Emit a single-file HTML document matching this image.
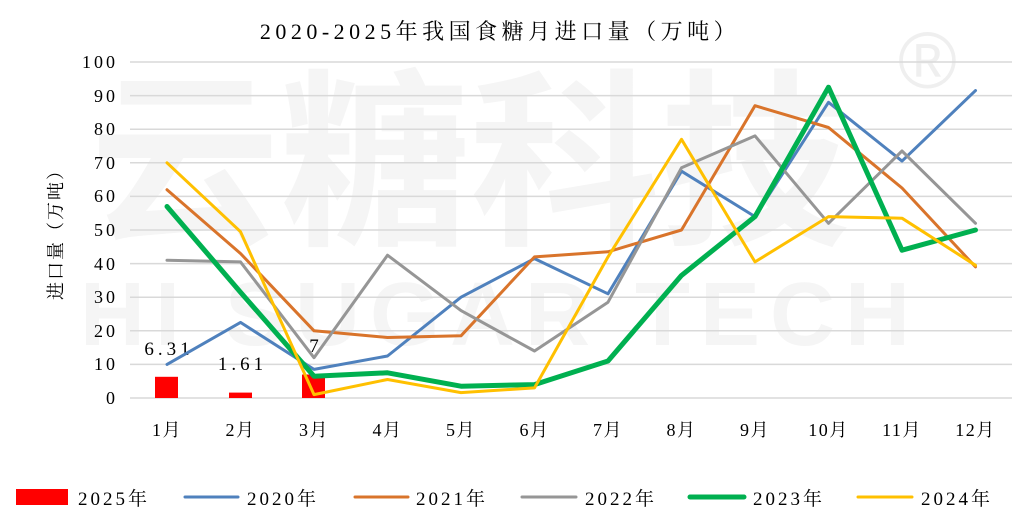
<!DOCTYPE html>
<html><head><meta charset="utf-8"><style>
body{margin:0;background:#fff}
svg{display:block}
text{font-family:"Liberation Serif","Noto Serif CJK SC",serif;fill:#000}
</style></head><body>
<svg width="1027" height="526" viewBox="0 0 1027 526" xmlns="http://www.w3.org/2000/svg">
<rect width="1027" height="526" fill="#fff"/>
<text x="90" y="230" font-size="190" style="fill:#f5f5f5;font-family:'Noto Sans CJK SC',sans-serif;font-weight:bold">云糖科技</text>
<text x="80" y="345" font-size="90" style="fill:#f5f5f5;font-family:'Liberation Sans',sans-serif;font-weight:bold" letter-spacing="10">HI SUGAR TECH</text>
<text x="898" y="88" font-size="80" style="fill:#efefef;font-family:'Liberation Sans',sans-serif">®</text>
<text x="500" y="39" font-size="22" text-anchor="middle" letter-spacing="4.5">2020-2025年我国食糖月进口量（万吨）</text>
<g stroke="#d9d9d9" stroke-width="1.5">
<line x1="130" x2="1012" y1="62" y2="62"/><line x1="130" x2="1012" y1="95.6" y2="95.6"/>
<line x1="130" x2="1012" y1="129.2" y2="129.2"/><line x1="130" x2="1012" y1="162.8" y2="162.8"/>
<line x1="130" x2="1012" y1="196.4" y2="196.4"/><line x1="130" x2="1012" y1="230" y2="230"/>
<line x1="130" x2="1012" y1="263.6" y2="263.6"/><line x1="130" x2="1012" y1="297.2" y2="297.2"/>
<line x1="130" x2="1012" y1="330.8" y2="330.8"/><line x1="130" x2="1012" y1="364.4" y2="364.4"/>
<line x1="130" x2="1012" y1="398" y2="398"/>
</g>
<g font-size="18" text-anchor="end" letter-spacing="3">
<text x="118" y="68">100</text><text x="118" y="102">90</text><text x="118" y="135">80</text>
<text x="118" y="169">70</text><text x="118" y="202">60</text><text x="118" y="236">50</text>
<text x="118" y="270">40</text><text x="118" y="303">30</text><text x="118" y="337">20</text>
<text x="118" y="370">10</text><text x="118" y="404">0</text>
</g>
<text transform="translate(62,230) rotate(-90)" font-size="18" text-anchor="middle" letter-spacing="2">进口量（万吨）</text>
<g font-size="18" text-anchor="middle" letter-spacing="1.5">
<text x="167" y="436">1月</text><text x="240.5" y="436">2月</text><text x="314" y="436">3月</text>
<text x="387.5" y="436">4月</text><text x="461" y="436">5月</text><text x="534.5" y="436">6月</text>
<text x="608" y="436">7月</text><text x="681.5" y="436">8月</text><text x="755" y="436">9月</text>
<text x="828.5" y="436">10月</text><text x="902" y="436">11月</text><text x="975.5" y="436">12月</text>
</g>
<g fill="#ff0000">
<rect x="155" y="376.8" width="23" height="21.2"/>
<rect x="229" y="392.6" width="23" height="5.4"/>
<rect x="302" y="374.5" width="23" height="23.5"/>
</g>
<g font-size="19" text-anchor="middle" letter-spacing="4">
<text x="169" y="355">6.31</text><text x="242.5" y="370">1.61</text><text x="316" y="352">7</text>
</g>
<g fill="none" stroke-linejoin="round" stroke-linecap="round">
<polyline stroke="#4f81bd" stroke-width="3" points="167,364.4 240.5,322.4 314,369.4 387.5,356 461,297.2 534.5,258.6 608,293.8 681.5,171.2 755,216.6 828.5,102.3 902,161.1 975.5,90.6"/>
<polyline stroke="#d9742b" stroke-width="3" points="167,189.7 240.5,253.5 314,330.8 387.5,337.5 461,335.8 534.5,256.9 608,251.8 681.5,230 755,105.7 828.5,127.5 902,188 975.5,266.9"/>
<polyline stroke="#969696" stroke-width="3" points="167,260.2 240.5,261.9 314,357.7 387.5,255.2 461,310.6 534.5,351 608,302.2 681.5,167.8 755,135.9 828.5,223.3 902,151 975.5,223.3"/>
<polyline stroke="#00b050" stroke-width="5" points="167,206.5 240.5,292.2 314,376.2 387.5,372.8 461,386.2 534.5,384.6 608,361 681.5,275.4 755,216.6 828.5,87.2 902,250.2 975.5,230"/>
<polyline stroke="#ffc000" stroke-width="3" points="167,162.8 240.5,231.7 314,394.6 387.5,379.5 461,392.6 534.5,387.9 608,256.9 681.5,139.3 755,261.9 828.5,216.6 902,218.2 975.5,265.3"/>
</g>
<rect x="16" y="489" width="52" height="16" fill="#ff0000"/>
<g stroke-width="3" stroke-linecap="round">
<line x1="185" x2="238" y1="497" y2="497" stroke="#4f81bd"/>
<line x1="355" x2="408" y1="497" y2="497" stroke="#d9742b"/>
<line x1="522" x2="576" y1="497" y2="497" stroke="#969696"/>
<line x1="690" x2="744" y1="497" y2="497" stroke="#00b050" stroke-width="5"/>
<line x1="858" x2="912" y1="497" y2="497" stroke="#ffc000"/>
</g>
<g font-size="19" letter-spacing="3">
<text x="78" y="505">2025年</text><text x="247" y="505">2020年</text><text x="416" y="505">2021年</text>
<text x="585" y="505">2022年</text><text x="753" y="505">2023年</text><text x="921" y="505">2024年</text>
</g>
</svg>
</body></html>
